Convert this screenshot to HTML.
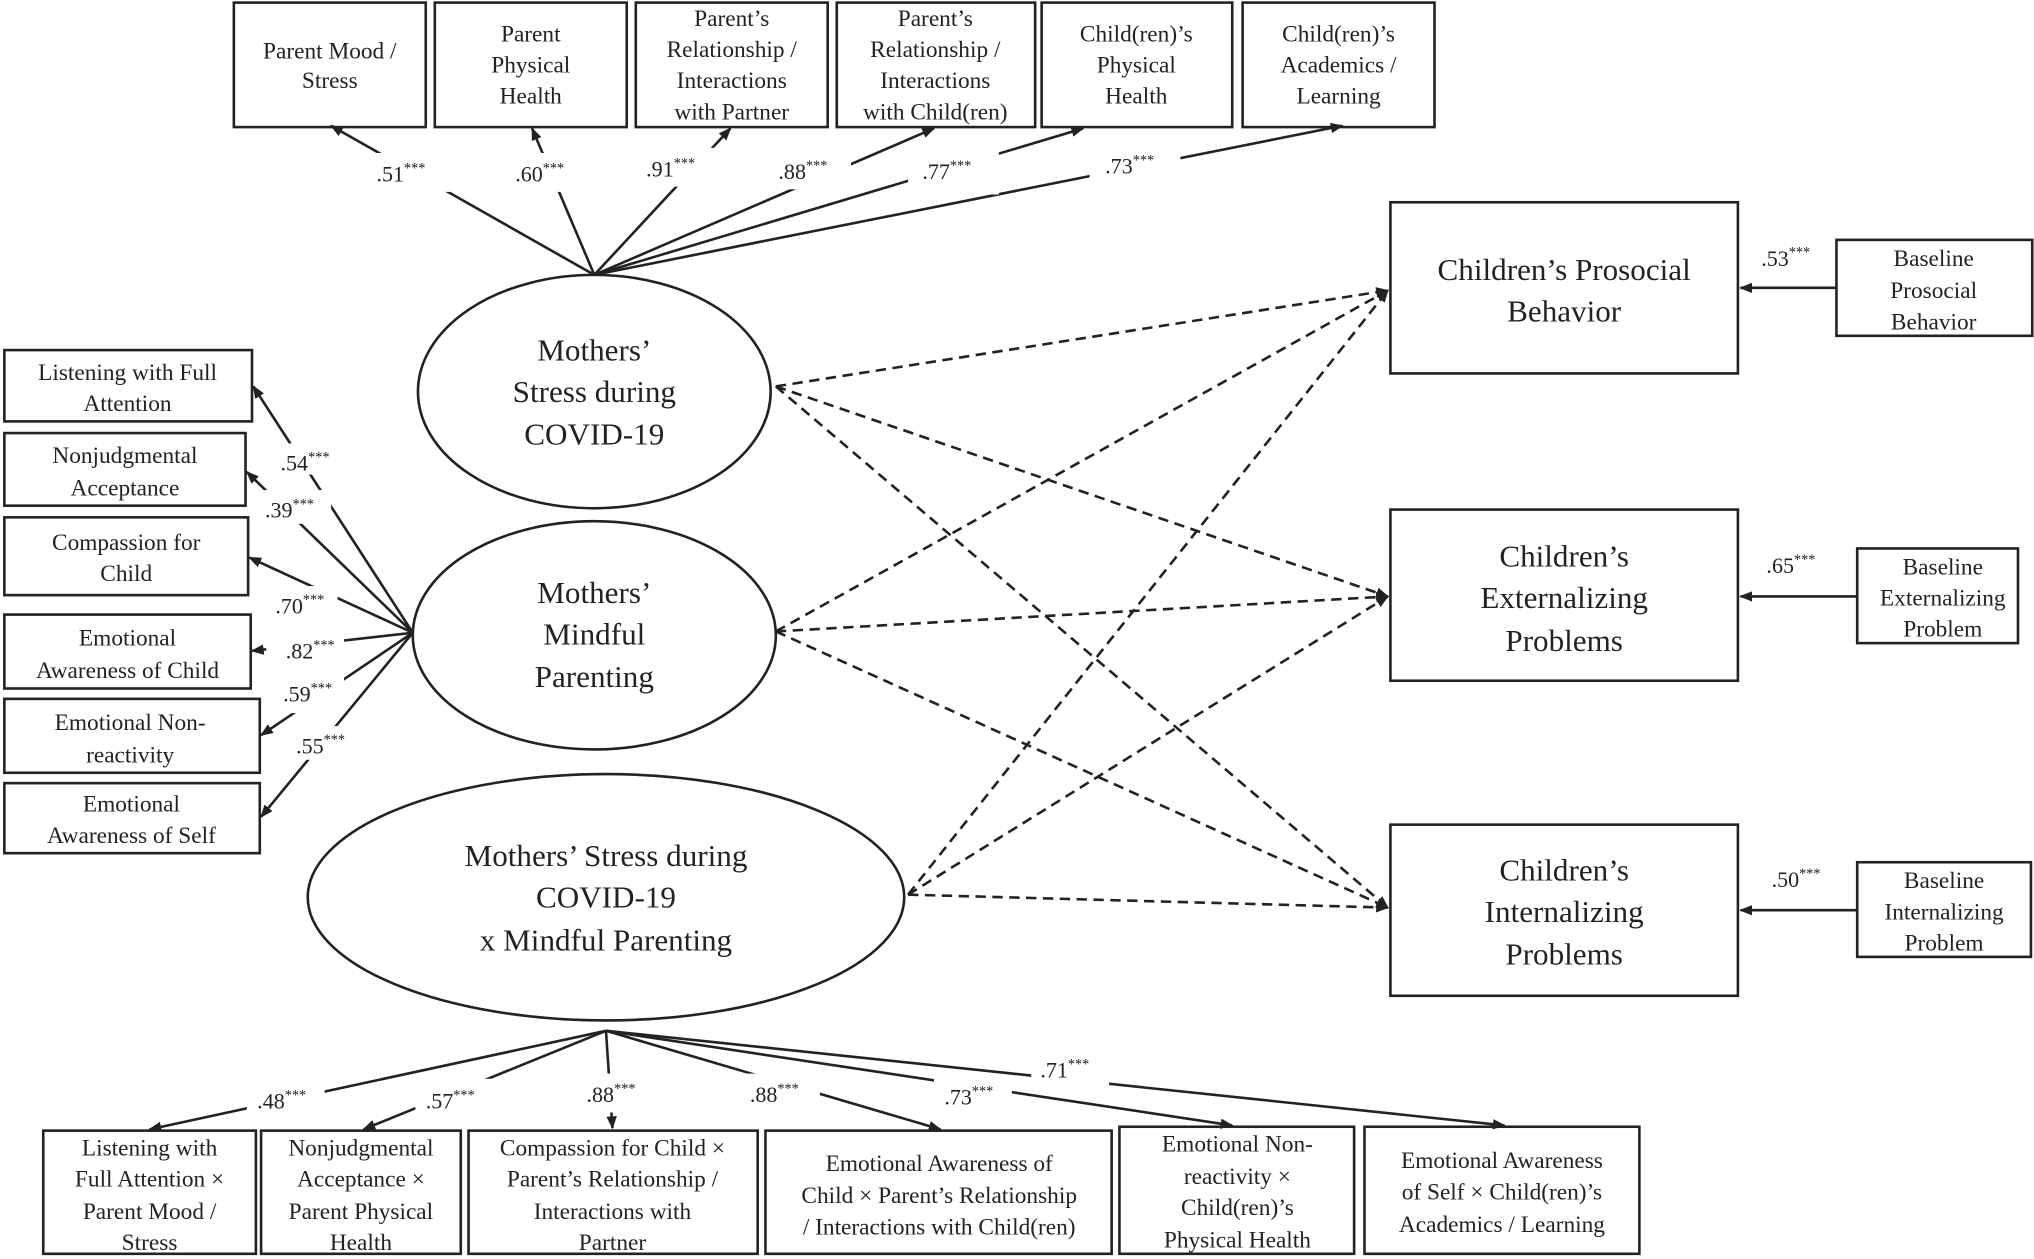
<!DOCTYPE html>
<html><head><meta charset="utf-8"><style>
html,body{margin:0;padding:0;background:#fff}
svg{display:block}
text{font-family:"Liberation Serif",serif;fill:#222}
.b{font-size:18px}
.m{font-size:24px}
.l{font-size:17px}
.s{font-size:11px}
</style></head><body>
<svg width="2034" height="1259" viewBox="0 0 1568 971" xmlns="http://www.w3.org/2000/svg">
<defs>
<marker id="a" markerWidth="10" markerHeight="8" refX="9" refY="4" orient="auto" markerUnits="userSpaceOnUse"><path d="M0,0 L10,4 L0,8 z" fill="#222"/></marker>
</defs>
<g stroke="#222" stroke-width="2" fill="none">
<!-- top boxes -->
<rect x="180" y="2" width="148" height="96"/><rect x="335" y="2" width="148" height="96"/>
<rect x="490" y="2" width="148" height="96"/><rect x="645" y="2" width="153" height="96"/>
<rect x="803" y="2" width="147" height="96"/><rect x="958" y="2" width="148" height="96"/>
<!-- ellipses -->
<ellipse cx="458" cy="302" rx="136" ry="90"/>
<ellipse cx="458" cy="490" rx="140" ry="88"/>
<ellipse cx="467" cy="692" rx="230" ry="95"/>
<!-- right -->
<rect x="1072" y="156" width="268" height="132"/><rect x="1072" y="393" width="268" height="132"/><rect x="1072" y="636" width="268" height="132"/>
<rect x="1416" y="185" width="151" height="74"/><rect x="1432" y="423" width="124" height="73"/><rect x="1432" y="665" width="134" height="73"/>
<!-- left -->
<rect x="3" y="270" width="191" height="55"/><rect x="3" y="334" width="186" height="56"/><rect x="3" y="399" width="188" height="60"/>
<rect x="3" y="474" width="190" height="57"/><rect x="3" y="539" width="197" height="57"/><rect x="3" y="604" width="197" height="54"/>
<!-- bottom -->
<rect x="33" y="872" width="164" height="95"/><rect x="201" y="872" width="154" height="95"/><rect x="361" y="872" width="223" height="95"/>
<rect x="590" y="872" width="267" height="95"/><rect x="863" y="869" width="181" height="98"/><rect x="1052" y="869" width="212" height="98"/>
</g>
<g stroke="#222" stroke-width="2" fill="none" marker-end="url(#a)">
<line x1="458" y1="212" x2="255" y2="97"/><line x1="458" y1="212" x2="410" y2="99"/>
<line x1="458" y1="212" x2="563" y2="99"/><line x1="458" y1="212" x2="720" y2="99"/>
<line x1="458" y1="212" x2="835" y2="99"/><line x1="458" y1="212" x2="1035" y2="97"/>
<line x1="318" y1="488" x2="195" y2="298"/><line x1="318" y1="488" x2="190" y2="364"/>
<line x1="318" y1="488" x2="192" y2="430"/><line x1="318" y1="488" x2="194" y2="502"/>
<line x1="318" y1="488" x2="201" y2="567"/><line x1="318" y1="488" x2="201" y2="630"/>
<line x1="467" y1="795" x2="115" y2="871"/><line x1="467" y1="795" x2="280" y2="871"/>
<line x1="467" y1="795" x2="472" y2="870"/><line x1="467" y1="795" x2="725" y2="871"/>
<line x1="467" y1="795" x2="950" y2="868"/><line x1="467" y1="795" x2="1160" y2="868"/>
<line x1="1416" y1="222" x2="1342" y2="222"/><line x1="1432" y1="460" x2="1342" y2="460"/><line x1="1432" y1="702" x2="1342" y2="702"/>
</g>
<g stroke="#222" stroke-width="2" fill="none" stroke-dasharray="8,5" marker-end="url(#a)">
<line x1="598" y1="298" x2="1070" y2="224"/><line x1="598" y1="298" x2="1070" y2="460"/><line x1="598" y1="298" x2="1070" y2="700"/>
<line x1="598" y1="487" x2="1070" y2="224"/><line x1="598" y1="487" x2="1070" y2="460"/><line x1="598" y1="487" x2="1070" y2="700"/>
<line x1="700" y1="690" x2="1070" y2="224"/><line x1="700" y1="690" x2="1070" y2="460"/><line x1="700" y1="690" x2="1070" y2="700"/>
</g>
<!-- label backgrounds -->
<g fill="#fff">
<rect x="282" y="118" width="70" height="30"/><rect x="385" y="118" width="60" height="30"/><rect x="490" y="114" width="60" height="30"/>
<rect x="590" y="116" width="66" height="30"/><rect x="700" y="116" width="70" height="34"/><rect x="840" y="112" width="70" height="30"/>
<rect x="210" y="342" width="55" height="24"/><rect x="200" y="378" width="55" height="26"/><rect x="205" y="452" width="55" height="24"/>
<rect x="205" y="486" width="60" height="24"/><rect x="210" y="520" width="55" height="30"/><rect x="220" y="560" width="60" height="26"/>
<rect x="190" y="832" width="60" height="30"/><rect x="320" y="832" width="60" height="30"/><rect x="445" y="828" width="60" height="30"/>
<rect x="572" y="828" width="60" height="30"/><rect x="720" y="830" width="60" height="30"/><rect x="795" y="808" width="60" height="30"/>
</g>
<g class="l">
<text x="290" y="140">.51<tspan class="s" dy="-7">***</tspan></text>
<text x="397" y="140">.60<tspan class="s" dy="-7">***</tspan></text>
<text x="498" y="136">.91<tspan class="s" dy="-7">***</tspan></text>
<text x="600" y="138">.88<tspan class="s" dy="-7">***</tspan></text>
<text x="711" y="138">.77<tspan class="s" dy="-7">***</tspan></text>
<text x="852" y="134">.73<tspan class="s" dy="-7">***</tspan></text>
<text x="216" y="363">.54<tspan class="s" dy="-7">***</tspan></text>
<text x="204" y="399">.39<tspan class="s" dy="-7">***</tspan></text>
<text x="212" y="473">.70<tspan class="s" dy="-7">***</tspan></text>
<text x="220" y="508">.82<tspan class="s" dy="-7">***</tspan></text>
<text x="218" y="541">.59<tspan class="s" dy="-7">***</tspan></text>
<text x="228" y="581">.55<tspan class="s" dy="-7">***</tspan></text>
<text x="198" y="855">.48<tspan class="s" dy="-7">***</tspan></text>
<text x="328" y="855">.57<tspan class="s" dy="-7">***</tspan></text>
<text x="452" y="850">.88<tspan class="s" dy="-7">***</tspan></text>
<text x="578" y="850">.88<tspan class="s" dy="-7">***</tspan></text>
<text x="728" y="852">.73<tspan class="s" dy="-7">***</tspan></text>
<text x="802" y="831">.71<tspan class="s" dy="-7">***</tspan></text>
<text x="1358" y="205">.53<tspan class="s" dy="-7">***</tspan></text>
<text x="1362" y="442">.65<tspan class="s" dy="-7">***</tspan></text>
<text x="1366" y="684">.50<tspan class="s" dy="-7">***</tspan></text>
</g>
<g class="b" text-anchor="middle">
<text x="254" y="45">Parent Mood /</text><text x="254" y="68">Stress</text>
<text x="409" y="32">Parent</text><text x="409" y="56">Physical</text><text x="409" y="80">Health</text>
<text x="564" y="20">Parent’s</text><text x="564" y="44">Relationship /</text><text x="564" y="68">Interactions</text><text x="564" y="92">with Partner</text>
<text x="721" y="20">Parent’s</text><text x="721" y="44">Relationship /</text><text x="721" y="68">Interactions</text><text x="721" y="92">with Child(ren)</text>
<text x="876" y="32">Child(ren)’s</text><text x="876" y="56">Physical</text><text x="876" y="80">Health</text>
<text x="1032" y="32">Child(ren)’s</text><text x="1032" y="56">Academics /</text><text x="1032" y="80">Learning</text>
<text x="98" y="293">Listening with Full</text><text x="98" y="317">Attention</text>
<text x="96" y="357">Nonjudgmental</text><text x="96" y="382">Acceptance</text>
<text x="97" y="424">Compassion for</text><text x="97" y="448">Child</text>
<text x="98" y="498">Emotional</text><text x="98" y="523">Awareness of Child</text>
<text x="100" y="563">Emotional Non-</text><text x="100" y="588">reactivity</text>
<text x="101" y="626">Emotional</text><text x="101" y="650">Awareness of Self</text>
<text x="1491" y="205">Baseline</text><text x="1491" y="230">Prosocial</text><text x="1491" y="254">Behavior</text>
<text x="1498" y="443">Baseline</text><text x="1498" y="467">Externalizing</text><text x="1498" y="491">Problem</text>
<text x="1499" y="685">Baseline</text><text x="1499" y="709">Internalizing</text><text x="1499" y="733">Problem</text>
<text x="115" y="891">Listening with</text><text x="115" y="915">Full Attention ×</text><text x="115" y="940">Parent Mood /</text><text x="115" y="964">Stress</text>
<text x="278" y="891">Nonjudgmental</text><text x="278" y="915">Acceptance ×</text><text x="278" y="940">Parent Physical</text><text x="278" y="964">Health</text>
<text x="472" y="891">Compassion for Child ×</text><text x="472" y="915">Parent’s Relationship /</text><text x="472" y="940">Interactions with</text><text x="472" y="964">Partner</text>
<text x="724" y="903">Emotional Awareness of</text><text x="724" y="928">Child × Parent’s Relationship</text><text x="724" y="952">/ Interactions with Child(ren)</text>
<text x="954" y="888">Emotional Non-</text><text x="954" y="913">reactivity ×</text><text x="954" y="937">Child(ren)’s</text><text x="954" y="962">Physical Health</text>
<text x="1158" y="901">Emotional Awareness</text><text x="1158" y="925">of Self × Child(ren)’s</text><text x="1158" y="950">Academics / Learning</text>
</g>
<g class="m" text-anchor="middle">
<text x="458" y="278">Mothers’</text><text x="458" y="310">Stress during</text><text x="458" y="343">COVID-19</text>
<text x="458" y="465">Mothers’</text><text x="458" y="497">Mindful</text><text x="458" y="530">Parenting</text>
<text x="467" y="668">Mothers’ Stress during</text><text x="467" y="700">COVID-19</text><text x="467" y="733">x Mindful Parenting</text>
<text x="1206" y="216">Children’s Prosocial</text><text x="1206" y="248">Behavior</text>
<text x="1206" y="437">Children’s</text><text x="1206" y="469">Externalizing</text><text x="1206" y="502">Problems</text>
<text x="1206" y="679">Children’s</text><text x="1206" y="711">Internalizing</text><text x="1206" y="744">Problems</text>
</g>
</svg>
</body></html>
